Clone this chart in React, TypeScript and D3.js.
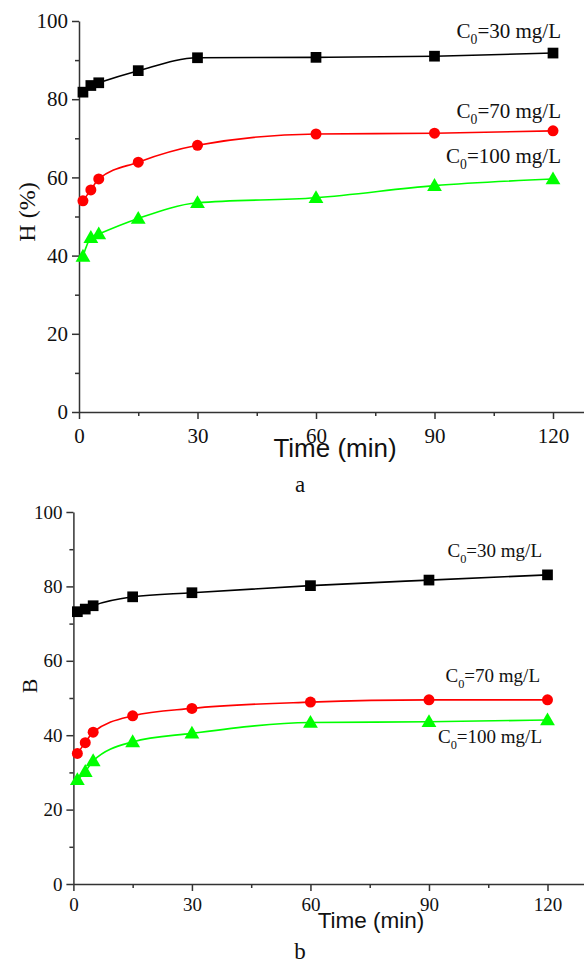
import React, { useEffect, useRef } from "react";
import * as d3 from "d3";

// time points (min)
const times = [1, 3, 5, 15, 30, 60, 90, 120];

// panel a: H (%)
const hC30 = [81.8, 83.5, 84.2, 87.3, 90.6, 90.7, 91.0, 91.8];
const hC70 = [54.0, 56.8, 59.6, 63.9, 68.2, 71.1, 71.3, 71.9];
const hC100 = [39.8, 44.6, 45.5, 49.5, 53.5, 54.8, 57.9, 59.6];

// panel b: B
const bC30 = [73.2, 73.9, 74.8, 77.2, 78.3, 80.2, 81.7, 83.1];
const bC70 = [35.1, 38.0, 40.8, 45.2, 47.2, 48.9, 49.5, 49.5];
const bC100 = [28.0, 30.2, 33.1, 38.2, 40.5, 43.4, 43.6, 44.1];

const seriesLabels = ["30", "70", "100"];
const xTicks = [0, 30, 60, 90, 120];
const xMinor = [15, 45, 75, 105];
const yTicks = [0, 20, 40, 60, 80, 100];
const yMinor = [10, 30, 50, 70, 90];

const serif = "'Liberation Serif', 'Times New Roman', serif";
const sans = "'Liberation Sans', Arial, sans-serif";

const colors = ["#000000", "#ff0000", "#00ff00"];
const symbols = [d3.symbolSquare, d3.symbolCircle, d3.symbolTriangle];
const symbolSizes = [115, 95, 95];

function drawPanel(svg, cfg) {
    const { series, xLeft, x120, xEnd, yTop, yBottom, fontSize, tickPad,
        yLabel, yLabelPos, yLabelSize, xLabelPos, xLabelSize, letter, letterPos, labels } = cfg;

    const xMax = 120 * (xEnd - xLeft) / (x120 - xLeft);
    const x = d3.scaleLinear().domain([0, xMax]).range([xLeft, xEnd]);
    const y = d3.scaleLinear().domain([0, 100]).range([yBottom, yTop]);

    const g = svg.append("g");

    // x axis
    const xAxis = g.append("g")
        .attr("transform", `translate(0,${yBottom})`)
        .call(d3.axisBottom(x).tickValues(xTicks).tickSize(7).tickSizeOuter(0).tickPadding(tickPad));
    g.append("g")
        .attr("transform", `translate(0,${yBottom})`)
        .call(d3.axisBottom(x).tickValues(xMinor).tickSize(4).tickSizeOuter(0).tickFormat(() => ""))
        .select(".domain").remove();

    // y axis
    const yAxis = g.append("g")
        .attr("transform", `translate(${xLeft},0)`)
        .call(d3.axisLeft(y).tickValues(yTicks).tickSize(7).tickSizeOuter(0).tickPadding(4));
    g.append("g")
        .attr("transform", `translate(${xLeft},0)`)
        .call(d3.axisLeft(y).tickValues(yMinor).tickSize(4).tickSizeOuter(0).tickFormat(() => ""))
        .select(".domain").remove();

    [xAxis, yAxis].forEach(a => {
        a.attr("font-family", null).attr("font-size", null);
        a.selectAll("text")
            .style("font-family", serif)
            .style("font-size", fontSize + "px")
            .attr("fill", "#111");
    });
    g.selectAll(".domain, .tick line")
        .attr("stroke", "#333")
        .attr("stroke-width", 1.5);

    // curves and markers
    series.forEach((vals, i) => {
        const pts = times.map((t, j) => [t, vals[j]]);
        const line = d3.line()
            .x(d => x(d[0]))
            .y(d => y(d[1]))
            .curve(d3.curveMonotoneX);
        g.append("path")
            .attr("d", line(pts))
            .attr("fill", "none")
            .attr("stroke", colors[i])
            .attr("stroke-width", 1.6);
        const sym = d3.symbol().type(symbols[i]).size(symbolSizes[i]);
        g.selectAll(null)
            .data(pts)
            .enter()
            .append("path")
            .attr("d", sym())
            .attr("transform", d => `translate(${x(d[0])},${y(d[1]) + (i === 2 ? 1 : 0)})`)
            .attr("fill", colors[i]);
    });

    // series labels
    labels.forEach((lb, i) => {
        const t = g.append("text")
            .attr("x", lb.x)
            .attr("y", lb.y)
            .attr("text-anchor", "end")
            .style("font-family", serif)
            .style("font-size", lb.size + "px")
            .attr("fill", "#111");
        t.append("tspan").text("C");
        t.append("tspan").attr("dy", lb.size * 0.3).style("font-size", lb.size * 0.65 + "px").text("0");
        t.append("tspan").attr("dy", -lb.size * 0.3).text(`=${seriesLabels[i]} mg/L`);
    });

    // axis titles
    g.append("text")
        .attr("transform", `translate(${yLabelPos[0]},${yLabelPos[1]}) rotate(-90)`)
        .attr("text-anchor", "middle")
        .attr("dominant-baseline", "central")
        .style("font-family", serif)
        .style("font-size", yLabelSize + "px")
        .attr("fill", "#111")
        .text(yLabel);

    g.append("text")
        .attr("x", xLabelPos[0])
        .attr("y", xLabelPos[1])
        .attr("text-anchor", "middle")
        .style("font-family", sans)
        .style("font-size", xLabelSize + "px")
        .attr("fill", "#111")
        .text("Time (min)");

    g.append("text")
        .attr("x", letterPos[0])
        .attr("y", letterPos[1])
        .attr("text-anchor", "middle")
        .style("font-family", serif)
        .style("font-size", "23px")
        .attr("fill", "#111")
        .text(letter);
}

export default function App() {
    const ref = useRef(null);

    useEffect(() => {
        const svg = d3.select(ref.current);
        svg.selectAll("*").remove();

        drawPanel(svg, {
            series: [hC30, hC70, hC100],
            xLeft: 79, x120: 553, xEnd: 584,
            yTop: 21, yBottom: 412,
            fontSize: 21, tickPad: 9,
            yLabel: "H (%)", yLabelPos: [27, 212], yLabelSize: 24,
            xLabelPos: [335, 457], xLabelSize: 26,
            letter: "a", letterPos: [300, 492],
            labels: [
                { x: 561, y: 38, size: 21 },
                { x: 561, y: 118, size: 21 },
                { x: 561, y: 163, size: 21 },
            ],
        });

        drawPanel(svg, {
            series: [bC30, bC70, bC100],
            xLeft: 73.4, x120: 547.5, xEnd: 584,
            yTop: 512, yBottom: 884,
            fontSize: 19, tickPad: 7,
            yLabel: "B", yLabelPos: [29, 686], yLabelSize: 22,
            xLabelPos: [371, 928], xLabelSize: 22.5,
            letter: "b", letterPos: [300, 959],
            labels: [
                { x: 542, y: 557, size: 19 },
                { x: 540, y: 682, size: 19 },
                { x: 542, y: 743, size: 19 },
            ],
        });
    }, []);

    return (
        <svg
            ref={ref}
            width={584}
            height={960}
            style={{ position: "absolute", left: 0, top: 0, background: "#fff" }}
        />
    );
}
